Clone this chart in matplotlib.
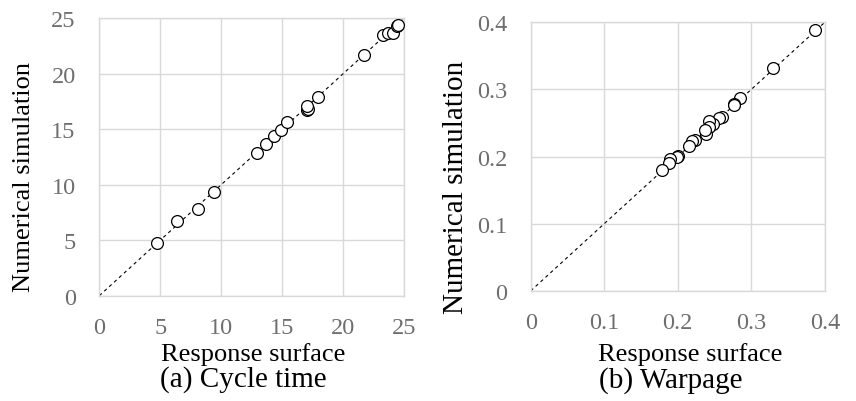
import numpy as np
import matplotlib.pyplot as plt

plt.rcParams['font.family'] = ['Liberation Serif', 'DejaVu Serif']

# (a) cycle time: response surface vs numerical simulation
cycle_rs = [4.76, 6.35, 8.07, 9.38, 12.91, 13.65, 14.36, 14.91, 15.40,
            17.01, 17.15, 17.07, 17.92, 21.72, 23.30, 23.66, 24.07, 24.40, 24.50]
cycle_sim = [4.78, 6.70, 7.78, 9.38, 12.86, 13.67, 14.42, 14.93, 15.69,
             16.77, 16.83, 17.07, 17.91, 21.69, 23.50, 23.65, 23.65, 24.34, 24.40]

# (b) warpage
warp_rs = [0.387, 0.329, 0.2845, 0.277, 0.276, 0.2596, 0.256, 0.248, 0.243,
           0.242, 0.239, 0.237, 0.224, 0.220, 0.2157, 0.201, 0.199, 0.190, 0.188, 0.1785]
warp_sim = [0.389, 0.3315, 0.288, 0.279, 0.277, 0.2585, 0.2575, 0.249, 0.253,
            0.244, 0.234, 0.240, 0.2247, 0.2227, 0.216, 0.201, 0.199, 0.196, 0.190, 0.180]

cycle_ticks = [0, 5, 10, 15, 20, 25]
warp_ticks = [0, 0.1, 0.2, 0.3, 0.4]
warp_labels = ['0', '0.1', '0.2', '0.3', '0.4']

tick_color = '#6e6e6e'
grid_color = '#d9d9d9'

fig = plt.figure(figsize=(8.56, 4.02), dpi=100)
ax1 = fig.add_axes([0.116, 0.262, 0.356, 0.690])
ax2 = fig.add_axes([0.620, 0.274, 0.3435, 0.668])


def style_axes(ax, ticks, labels, lim):
    ax.set_xlim(0, lim)
    ax.set_ylim(0, lim)
    ax.set_xticks(ticks)
    ax.set_yticks(ticks)
    ax.set_xticklabels(labels)
    ax.set_yticklabels(labels)
    ax.grid(True, color=grid_color, linewidth=1.0)
    ax.set_axisbelow(True)
    for s in ax.spines.values():
        s.set_color(grid_color)
        s.set_linewidth(1.0)
    ax.tick_params(length=0, labelsize=17.5, colors=tick_color)
    ax.tick_params(axis='x', pad=15)
    ax.tick_params(axis='y', pad=17)


def draw(ax, xs, ys, lim):
    ax.plot([0, lim], [0, lim], color='black', linewidth=0.8,
            dashes=(3, 3), zorder=2)
    ax.plot(xs, ys, 'o', markersize=8.5, markerfacecolor='white',
            markeredgecolor='black', markeredgewidth=0.9, zorder=3,
            clip_on=False)


draw(ax1, cycle_rs, cycle_sim, 25)
style_axes(ax1, cycle_ticks, [str(t) for t in cycle_ticks], 25)
draw(ax2, warp_rs, warp_sim, 0.4)
style_axes(ax2, warp_ticks, warp_labels, 0.4)

ax1.set_xlabel('Response surface', fontsize=19, va='center')
ax1.xaxis.set_label_coords(0.504, -0.207)
ax1.set_ylabel('Numerical simulation', fontsize=19, va='center')
ax1.yaxis.set_label_coords(-0.247, 0.43)

ax2.set_xlabel('Response surface', fontsize=19, va='center')
ax2.xaxis.set_label_coords(0.542, -0.232)
ax2.set_ylabel('Numerical simulation', fontsize=21, va='center')
ax2.yaxis.set_label_coords(-0.254, 0.388)

fig.text(243 / 856, 1 - 380 / 402, '(a) Cycle time', fontsize=21,
         ha='center', va='center')
fig.text(671 / 856, 1 - 381 / 402, '(b) Warpage', fontsize=21,
         ha='center', va='center')

fig.savefig('out.png', dpi=100)
